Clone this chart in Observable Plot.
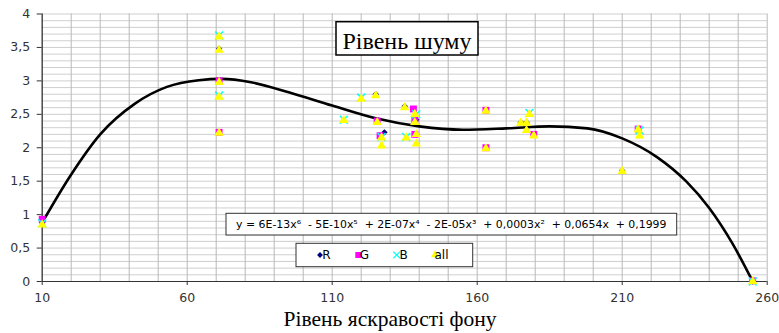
<!DOCTYPE html>
<html><head><meta charset="utf-8">
<script src="https://cdn.jsdelivr.net/npm/d3@7"></script>
<script src="https://cdn.jsdelivr.net/npm/@observablehq/plot@0.6"></script>
<style>
body{margin:0;background:#fff}
#chart{position:relative;width:779px;height:333px}
</style>
</head><body><div id="chart"></div>
<script>
// ---- data ----
const rX = [10, 71, 71, 125, 128, 135, 139, 139, 175, 177, 210, 255];
const rY = [0.88, 3.48, 3.0, 2.8, 2.23, 2.62, 2.42, 2.2, 2.38, 2.38, 1.66, 0];
const gX = [10, 71, 71, 125.5, 126.5, 138, 138.5, 138.5, 163, 163, 179.5, 215.5, 255];
const gY = [0.93, 3.0, 2.23, 2.4, 2.18, 2.58, 2.41, 2.2, 2.56, 2.0, 2.2, 2.28, 0.01];
const bX = [10, 71, 71, 114, 120, 127, 135.5, 139, 178, 216, 255];
const bY = [0.87, 3.68, 2.78, 2.42, 2.75, 2.16, 2.16, 2.5, 2.52, 2.26, 0];
const allX = [10, 71, 71, 71, 71, 71, 114, 120, 125, 125.5, 127, 127, 135, 135.5, 138.5, 138.5, 139, 139, 163, 163, 175, 177, 178, 177, 179.5, 215.5, 216, 210, 255];
const allY = [0.85, 3.66, 3.46, 2.98, 2.76, 2.22, 2.41, 2.73, 2.78, 2.38, 2.15, 2.03, 2.6, 2.15, 2.5, 2.38, 2.2, 2.06, 2.55, 1.99, 2.37, 2.37, 2.5, 2.26, 2.18, 2.27, 2.18, 1.65, 0];
// trendline (6th order polynomial)
const trendX = [10, 20, 30, 42, 53, 64, 72, 82, 95, 110, 125, 140, 155, 170, 185, 198, 210, 222, 232, 240, 248, 255];
const trendY = [0.88, 1.6, 2.2, 2.66, 2.91, 3.01, 3.03, 2.98, 2.83, 2.63, 2.44, 2.32, 2.27, 2.29, 2.32, 2.29, 2.14, 1.86, 1.5, 1.1, 0.57, 0];
const xTicks = [10, 60, 110, 160, 210, 260];
const yTicks = [0, 0.5, 1, 1.5, 2, 2.5, 3, 3.5, 4];
const seriesNames = ["R", "G", "B", "all"];
const titleText = "Рівень шуму";
const xTitle = "Рівень яскравості фону";
const equation = "y = 6E-13x⁶  - 5E-10x⁵  + 2E-07x⁴  - 2E-05x³  + 0,0003x²  + 0,0654x  + 0,1999";

const zip = (xs, ys) => xs.map((x, i) => ({x, y: ys[i]}));
const R = zip(rX, rY), G = zip(gX, gY), B = zip(bX, bY), ALL = zip(allX, allY), TREND = zip(trendX, trendY);
const diamondSym = d3.symbolDiamond2 || d3.symbolDiamond;

const plot = Plot.plot({
  width: 779, height: 333,
  marginLeft: 41.7, marginRight: 12.3, marginTop: 13.5, marginBottom: 52,
  x: {domain: [10, 260]},
  y: {domain: [0, 4]},
  style: {fontFamily: "'DejaVu Sans', sans-serif", fontSize: "12.5px", color: "#333", background: "#fff"},
  marks: [
    Plot.gridY(d3.range(0, 41).map(v => v / 10), {stroke: "#cfcfcf", strokeOpacity: 1}),
    Plot.gridX(d3.range(10, 261, 10), {stroke: "#b8b8b8", strokeOpacity: 1}),
    Plot.ruleX([10], {stroke: "#333", strokeWidth: 1.2}),
    Plot.ruleY([0], {stroke: "#333", strokeWidth: 1.2}),
    Plot.axisX(xTicks, {tickSize: 4, tickPadding: 8, label: null, stroke: "#333", tickFormat: d => String(d)}),
    Plot.axisY(yTicks, {tickSize: 5, tickPadding: 7, label: null, stroke: "#333", tickFormat: d => String(d).replace(".", ",")}),
    Plot.line(TREND, {x: "x", y: "y", curve: "monotone-x", stroke: "#000", strokeWidth: 2.6}),
    Plot.dot(R, {x: "x", y: "y", symbol: diamondSym, fill: "#000080", r: 2.9}),
    Plot.dot(G, {x: "x", y: "y", symbol: "square", fill: "#ff00ff", r: 3.9}),
    Plot.dot(B, {x: "x", y: "y", symbol: "times", stroke: "#00ffff", strokeWidth: 1.5, r: 3.7}),
    Plot.dot(ALL, {x: "x", y: "y", symbol: "triangle", fill: "#ffff00", r: 3.5})
  ]
});
document.getElementById("chart").appendChild(plot);

const svg = d3.select(plot);
// title box
const tb = svg.append("g");
tb.append("rect").attr("x", 336).attr("y", 21.7).attr("width", 142).attr("height", 33.3)
  .attr("fill", "#fff").attr("stroke", "#000").attr("stroke-width", 1.5);
tb.append("text").attr("x", 407).attr("y", 48.5).attr("text-anchor", "middle")
  .attr("font-family", "'Liberation Serif', serif").attr("font-size", 24).attr("fill", "#000").text(titleText);
// equation box
const eb = svg.append("g");
eb.append("rect").attr("x", 226).attr("y", 213.3).attr("width", 450.7).attr("height", 21.7)
  .attr("fill", "#fff").attr("stroke", "#333").attr("stroke-width", 1);
eb.append("text").attr("x", 451.3).attr("y", 228.3).attr("text-anchor", "middle")
  .attr("font-family", "'DejaVu Sans', sans-serif").attr("font-size", 10.9).attr("fill", "#000")
  .style("white-space", "pre").text(equation);
// legend box
const lg = svg.append("g");
lg.append("rect").attr("x", 296).attr("y", 243.3).attr("width", 176.7).attr("height", 23.4)
  .attr("fill", "#fff").attr("stroke", "#333").attr("stroke-width", 1);
const legItems = [
  {name: seriesNames[0], sx: 320, tx: 326.5, sym: diamondSym, size: 22, fill: "#000080", stroke: "none"},
  {name: seriesNames[1], sx: 358.3, tx: 364.5, sym: d3.symbolSquare, size: 36, fill: "#ff00ff", stroke: "none"},
  {name: seriesNames[2], sx: 396.7, tx: 403.5, sym: d3.symbolTimes || d3.symbolCross, size: 32, fill: "none", stroke: "#00ffff"},
  {name: seriesNames[3], sx: 435, tx: 441.5, sym: d3.symbolTriangle, size: 28, fill: "#ffff00", stroke: "none"}
];
legItems.forEach(it => {
  lg.append("path").attr("d", d3.symbol(it.sym, it.size)()).attr("transform", `translate(${it.sx},255)`)
    .attr("fill", it.fill).attr("stroke", it.stroke).attr("stroke-width", 1.3);
  lg.append("text").attr("x", it.tx).attr("y", 259.3).attr("font-family", "'DejaVu Sans', sans-serif")
    .attr("font-size", 12).attr("fill", "#000").text(it.name);
});
// x axis title
svg.append("text").attr("x", 390).attr("y", 326).attr("text-anchor", "middle")
  .attr("font-family", "'Liberation Serif', serif").attr("font-size", 21.5).attr("fill", "#000").text(xTitle);
</script>
</body></html>
